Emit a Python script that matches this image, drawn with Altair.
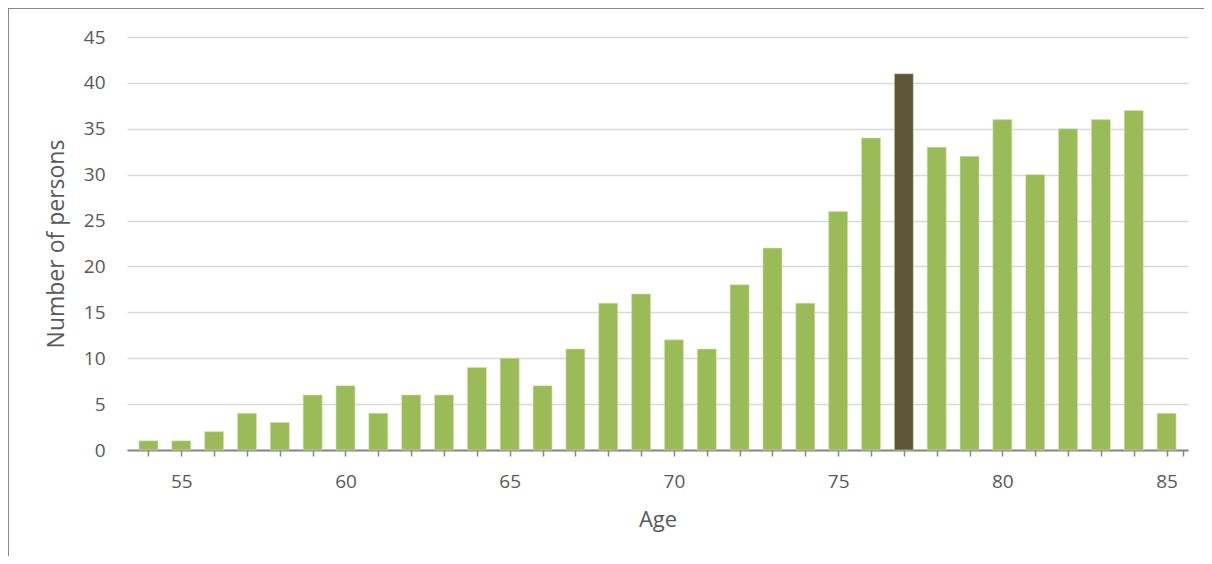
import altair as alt
import pandas as pd

ages = list(range(54, 86))
counts = [1, 1, 2, 4, 3, 6, 7, 4, 6, 6, 9, 10, 7, 11, 16, 17, 12, 11, 18, 22,
          16, 26, 34, 41, 33, 32, 36, 30, 35, 36, 37, 4]
highlight_age = 77

df = pd.DataFrame({"age": ages, "count": counts})
df["hl"] = df["age"].apply(lambda a: "yes" if a == highlight_age else "no")

FONT = "Open Sans"
W, H = 1061, 413

tick_vals = [a for a in ages] + [85.5]

bars = alt.Chart(df).mark_bar(size=19, stroke="#d4e3b5", strokeWidth=0.6).encode(
    x=alt.X("age:Q",
            scale=alt.Scale(domain=[53.5, 85.5], nice=False, zero=False),
            axis=alt.Axis(values=tick_vals,
                          labelExpr="datum.value % 5 == 0 ? datum.value : ''",
                          title="Age", grid=False,
                          domainColor="#868686", domainWidth=2,
                          tickColor="#868686", tickWidth=1.5, tickSize=6,
                          labelPadding=16, titlePadding=18)),
    y=alt.Y("count:Q",
            scale=alt.Scale(domain=[0, 45], nice=False),
            axis=alt.Axis(values=list(range(0, 50, 5)), title="Number of persons",
                          domain=False, ticks=False, gridColor="#d9d9d9",
                          gridWidth=1.5, labelPadding=22, titlePadding=15,
                          titleFontSize=23)),
    color=alt.Color("hl:N", scale=alt.Scale(domain=["no", "yes"],
                                            range=["#9bbb59", "#5e5536"]),
                    legend=None),
)

frame_left = alt.Chart(df).mark_rule(color="#888888", strokeWidth=2).encode(
    x=alt.value(-119), y=alt.value(-30), y2=alt.value(H + 120))
frame_top = alt.Chart(df).mark_rule(color="#888888", strokeWidth=2).encode(
    x=alt.value(-120), x2=alt.value(W + 40), y=alt.value(-29))

chart = alt.layer(frame_left, frame_top, bars).properties(
    width=W, height=H,
    autosize=alt.AutoSizeParams(type="none"),
    padding={"left": 119, "top": 29, "right": 16, "bottom": 106},
).configure_view(stroke=None).configure_axis(
    labelFont=FONT, titleFont=FONT, labelColor="#595959", titleColor="#595959",
    labelFontSize=19, titleFontSize=22, titleFontWeight="normal",
)

chart.save("out.html", embed_options={"renderer": "svg", "actions": False})
